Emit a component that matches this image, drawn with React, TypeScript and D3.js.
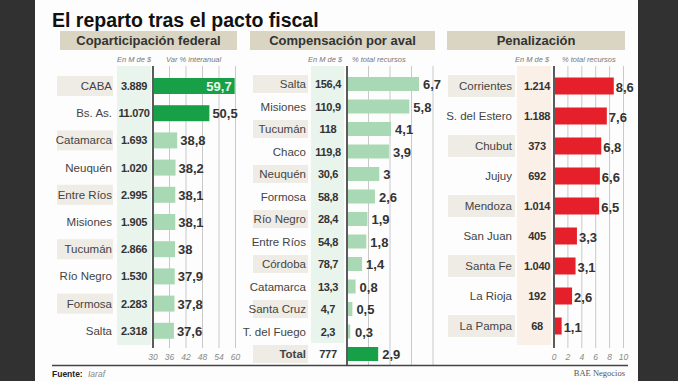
import React from "react";
import * as d3 from "d3";

const coparCats = ["CABA", "Bs. As.", "Catamarca", "Neuquén", "Entre Ríos", "Misiones", "Tucumán", "Río Negro", "Formosa", "Salta"];
const coparMonto = ["3.889", "11.070", "1.693", "1.020", "2.995", "1.905", "2.866", "1.530", "2.283", "2.318"];
const coparVar = [59.7, 50.5, 38.8, 38.2, 38.1, 38.1, 38, 37.9, 37.8, 37.6];
const coparTicks = [30, 36, 42, 48, 54, 60];

const avalCats = ["Salta", "Misiones", "Tucumán", "Chaco", "Neuquén", "Formosa", "Río Negro", "Entre Ríos", "Córdoba", "Catamarca", "Santa Cruz", "T. del Fuego", "Total"];
const avalMonto = ["156,4", "110,9", "118", "119,8", "30,6", "58,8", "28,4", "54,8", "78,7", "13,3", "4,7", "2,3", "777"];
const avalPct = [6.7, 5.8, 4.1, 3.9, 3, 2.6, 1.9, 1.8, 1.4, 0.8, 0.5, 0.3, 2.9];
const avalGrid = [2, 4, 6, 8];

const penCats = ["Corrientes", "S. del Estero", "Chubut", "Jujuy", "Mendoza", "San Juan", "Santa Fe", "La Rioja", "La Pampa"];
const penMonto = ["1.214", "1.188", "373", "692", "1.014", "405", "1.040", "192", "68"];
const penPct = [8.6, 7.6, 6.8, 6.6, 6.5, 3.3, 3.1, 2.6, 1.1];
const penTicks = [0, 2, 4, 6, 8, 10];

const fmt = (v: number) => String(v).replace(".", ",");

const FONT = "'Liberation Sans', Arial, Helvetica, sans-serif";
const DARK_GREEN = "#17a047";
const LIGHT_GREEN = "#a9d9b4";
const RED = "#e5202b";
const LABEL_BG = "#efece5";
const HEAD_BG = "#d9d5c2";
const GRID = "#c9c9c9";

export default function App() {
  // Panel 1
  const x1 = d3.scaleLinear().domain([30, 60]).range([153, 235.5]);
  const y1 = d3.scaleBand<string>().domain(coparCats).range([72.4, 344.4]);
  // Panel 2
  const x2 = d3.scaleLinear().domain([0, 8]).range([347, 433]);
  const y2 = d3.scaleBand<string>().domain(avalCats).range([72.75, 365.25]);
  // Panel 3
  const x3 = d3.scaleLinear().domain([0, 10]).range([554, 623.5]);
  const y3 = d3.scaleBand<string>().domain(penCats).range([71, 341]);

  const sub = { fontFamily: FONT, fontSize: 7.5, fontStyle: "italic" as const, fill: "#777" };
  const tick = { fontFamily: FONT, fontSize: 8.5, fontStyle: "italic" as const, fill: "#888" };
  const cat = { fontFamily: FONT, fontSize: 11.5, fill: "#444" };
  const mon = { fontFamily: FONT, fontSize: 11, fontWeight: 700, fill: "#333", letterSpacing: -0.3 };
  const val = { fontFamily: FONT, fontSize: 13, fontWeight: 700, fill: "#333" };

  return (
    <svg width={678} height={381} style={{ position: "absolute", left: 0, top: 0, display: "block" }}>
      <rect x={0} y={0} width={678} height={381} fill="#fdfdfd" />
      <rect x={0} y={0} width={35} height={381} fill="#313131" />
      <rect x={638} y={0} width={40} height={381} fill="#313131" />

      <text x={52} y={27} fontFamily={FONT} fontSize={19.5} fontWeight={700} fill="#111">
        El reparto tras el pacto fiscal
      </text>

      {/* headers */}
      <rect x={60} y={31} width={177} height={19} fill={HEAD_BG} />
      <text x={148.5} y={45} textAnchor="middle" fontFamily={FONT} fontSize={13} fontWeight={700} fill="#333">Coparticipación federal</text>
      <rect x={250} y={31} width={185} height={19} fill={HEAD_BG} />
      <text x={342.5} y={45} textAnchor="middle" fontFamily={FONT} fontSize={13} fontWeight={700} fill="#333">Compensación por aval</text>
      <rect x={447} y={31} width={178} height={19} fill={HEAD_BG} />
      <text x={536} y={45} textAnchor="middle" fontFamily={FONT} fontSize={13} fontWeight={700} fill="#333">Penalización</text>

      {/* subheaders */}
      <text x={117} y={62} {...sub}>En M de $</text>
      <text x={166} y={62} {...sub}>Var % interanual</text>
      <text x={308} y={62} {...sub}>En M de $</text>
      <text x={352} y={62} {...sub}>% total recursos</text>
      <text x={515} y={62} {...sub}>En M de $</text>
      <text x={562} y={62} {...sub}>% total recursos</text>

      {/* ===== Panel 1 ===== */}
      <rect x={117} y={66} width={34} height={279} fill="#e8f4ec" />
      {coparCats.map((c, i) =>
        i % 2 === 0 ? (
          <rect key={"lb1" + c} x={57} y={(y1(c) as number) + y1.bandwidth() / 2 - 10} width={56} height={20} fill={LABEL_BG} />
        ) : null
      )}
      {coparTicks.slice(1).map((t) => (
        <line key={"g1" + t} x1={x1(t)} x2={x1(t)} y1={66} y2={348} stroke={GRID} strokeWidth={1} />
      ))}
      <line x1={x1(30)} x2={x1(30)} y1={66} y2={348} stroke="#333" strokeWidth={1.6} />
      {coparTicks.map((t) => (
        <text key={"t1" + t} x={x1(t)} y={360} textAnchor="middle" {...tick}>{t}</text>
      ))}
      {coparCats.map((c, i) => {
        const cy = (y1(c) as number) + y1.bandwidth() / 2;
        const v = coparVar[i];
        const dark = i < 2;
        return (
          <g key={"r1" + c}>
            <text x={112} y={cy + 4} textAnchor="end" {...cat}>{c}</text>
            <text x={134} y={cy + 4} textAnchor="middle" {...mon}>{coparMonto[i]}</text>
            <rect x={x1(30) + 1} y={cy - 8} width={x1(v) - x1(30) - 1} height={16} fill={dark ? DARK_GREEN : LIGHT_GREEN} />
            {i === 0 ? (
              <text x={x1(v) - 3} y={cy + 5} textAnchor="end" {...val} fill="#e9f7ec">{fmt(v)}</text>
            ) : (
              <text x={x1(v) + 3} y={cy + 5} {...val}>{fmt(v)}</text>
            )}
          </g>
        );
      })}

      {/* ===== Panel 2 ===== */}
      <rect x={311} y={66} width={33} height={277} fill="#e8f4ec" />
      {avalCats.map((c, i) =>
        i % 2 === 0 ? (
          <rect key={"lb2" + c} x={253} y={(y2(c) as number) + y2.bandwidth() / 2 - 9} width={55} height={18} fill={LABEL_BG} />
        ) : null
      )}
      {avalGrid.map((t) => (
        <line key={"g2" + t} x1={x2(t)} x2={x2(t)} y1={66} y2={366} stroke={GRID} strokeWidth={1} />
      ))}
      <line x1={x2(0)} x2={x2(0)} y1={66} y2={366} stroke="#333" strokeWidth={1.6} />
      {avalCats.map((c, i) => {
        const cy = (y2(c) as number) + y2.bandwidth() / 2;
        const v = avalPct[i];
        const total = c === "Total";
        return (
          <g key={"r2" + c}>
            <text x={306} y={cy + 4} textAnchor="end" {...cat} fontWeight={total ? 700 : 400}>{c}</text>
            <text x={328} y={cy + 4} textAnchor="middle" {...mon}>{avalMonto[i]}</text>
            <rect x={x2(0) + 1} y={cy - 7} width={x2(v) - x2(0) - 1} height={14} fill={total ? DARK_GREEN : LIGHT_GREEN} />
            <text x={Math.max(x2(v) + 4, 355)} y={cy + 5} {...val}>{fmt(v)}</text>
          </g>
        );
      })}

      {/* ===== Panel 3 ===== */}
      <rect x={517} y={66} width={34} height={279} fill="#fbf0e8" />
      {penCats.map((c, i) =>
        i % 2 === 0 ? (
          <rect key={"lb3" + c} x={448} y={(y3(c) as number) + y3.bandwidth() / 2 - 11} width={67} height={22} fill={LABEL_BG} />
        ) : null
      )}
      {penTicks.slice(1).map((t) => (
        <line key={"g3" + t} x1={x3(t)} x2={x3(t)} y1={66} y2={348} stroke={GRID} strokeWidth={1} />
      ))}
      <line x1={x3(0)} x2={x3(0)} y1={66} y2={348} stroke="#333" strokeWidth={1.6} />
      {penTicks.map((t) => (
        <text key={"t3" + t} x={x3(t)} y={360} textAnchor="middle" {...tick}>{t}</text>
      ))}
      {penCats.map((c, i) => {
        const cy = (y3(c) as number) + y3.bandwidth() / 2;
        const v = penPct[i];
        return (
          <g key={"r3" + c}>
            <text x={512} y={cy + 4} textAnchor="end" {...cat}>{c}</text>
            <text x={537} y={cy + 4} textAnchor="middle" {...mon}>{penMonto[i]}</text>
            <rect x={x3(0) + 1} y={cy - 8.5} width={x3(v) - x3(0) - 1} height={17} fill={RED} />
            <text x={x3(v) + 2} y={cy + 6} {...val}>{fmt(v)}</text>
          </g>
        );
      })}

      {/* footer */}
      <line x1={52} x2={628} y1={365.5} y2={365.5} stroke="#444" strokeWidth={1.5} />
      <text x={52} y={377} fontFamily={FONT} fontSize={8.5} fontWeight={700} fill="#222">Fuente:</text>
      <text x={88} y={377} fontFamily={FONT} fontSize={8.5} fontStyle="italic" fill="#888">Iaraf</text>
      <text x={625} y={376} textAnchor="end" fontFamily="'Liberation Serif', 'DejaVu Serif', serif" fontSize={8.5} fill="#555">BAE Negocios</text>
    </svg>
  );
}
